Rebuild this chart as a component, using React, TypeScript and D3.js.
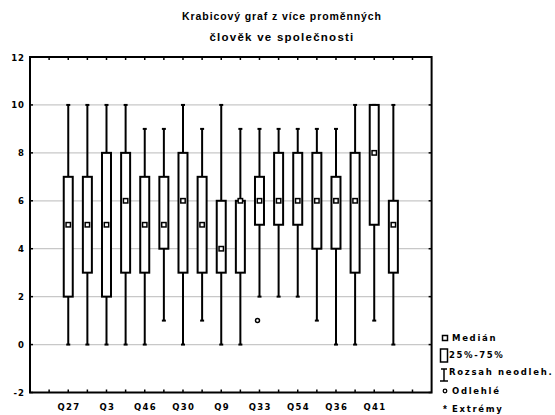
import React from "react";
import * as d3 from "d3";

const categoryLabels = ["Q27", "", "Q3", "", "Q46", "", "Q30", "", "Q9", "", "Q33", "", "Q54", "", "Q36", "", "Q41", ""];
const medians = [5, 5, 5, 6, 5, 5, 6, 5, 4, 6, 6, 6, 6, 6, 6, 6, 8, 5];
const q1s = [2, 3, 2, 3, 3, 4, 3, 3, 3, 3, 5, 5, 5, 4, 4, 3, 5, 3];
const q3s = [7, 7, 8, 8, 7, 7, 8, 7, 6, 6, 7, 8, 8, 8, 7, 8, 10, 6];
const mins = [0, 0, 0, 0, 0, 1, 0, 1, 0, 0, 2, 2, 2, 1, 0, 0, 1, 0];
const maxs = [10, 10, 10, 10, 9, 9, 10, 9, 10, 9, 9, 9, 9, 9, 9, 10, 10, 10];
const outlierIndex = [10];
const outlierValue = [1];
const yTicks = [-2, 0, 2, 4, 6, 8, 10, 12];
const gridValues = [0, 2, 4, 6, 8, 10];
const titleLines = ["Krabicový graf z více proměnných", "člověk ve společnosti"];
const legendLabels = ["Medián", "25%-75%", "Rozsah neodleh.", "Odlehlé", "Extrémy"];

export default function App() {
  const W = 555, H = 415;
  const L = 30, R = 431.6, T = 57, B = 392.5;
  const x = d3.scaleLinear().domain([-1, categoryLabels.length + 2]).range([L, R]);
  const y = d3.scaleLinear().domain([-2, 12]).range([B, T]);
  const font = "'Liberation Sans', Arial, sans-serif";
  const font2 = "'DejaVu Sans', sans-serif";
  const bw = 9;
  const capW = 4;
  const xTickPos = d3.range(0, categoryLabels.length + 2);

  return (
    <svg width={W} height={H} style={{ position: "fixed", left: 0, top: 0, background: "#fff" }}
      fontFamily={font}>
      <rect x={0} y={0} width={W} height={H} fill="#fff" />
      {titleLines.map((t, i) => (
        <text key={i} x={282} y={20 + i * 21} textAnchor="middle" fontSize={i === 0 ? 10.5 : 11.5}
          fontWeight="bold" letterSpacing={i === 0 ? 0.9 : 1.25}>{t}</text>
      ))}
      {gridValues.map((v) => (
        <line key={v} x1={L} x2={R} y1={y(v)} y2={y(v)} stroke="#c8c8c8" strokeWidth={1.2} />
      ))}
      {xTickPos.map((p) => (
        <g key={p}>
          <line x1={x(p)} x2={x(p)} y1={T} y2={T + 3} stroke="#000" strokeWidth={1.5} />
          <line x1={x(p)} x2={x(p)} y1={B} y2={B - 3} stroke="#000" strokeWidth={1.5} />
        </g>
      ))}
      {yTicks.map((v) => (
        <g key={v}>
          <line x1={L} x2={L + 3} y1={y(v)} y2={y(v)} stroke="#000" strokeWidth={1.5} />
          <line x1={R} x2={R - 3} y1={y(v)} y2={y(v)} stroke="#000" strokeWidth={1.5} />
          <text x={25} y={y(v) + 3.5} textAnchor="end" fontSize={8.5} fontWeight="bold"
            fontFamily={font2} letterSpacing={1}>{v}</text>
        </g>
      ))}
      {medians.map((m, i) => {
        const cx = x(i + 1);
        return (
          <g key={i} stroke="#000" strokeWidth={2} fill="none">
            <line x1={cx} x2={cx} y1={y(maxs[i])} y2={y(q3s[i])} />
            <line x1={cx} x2={cx} y1={y(q1s[i])} y2={y(mins[i])} />
            <line x1={cx - capW / 2} x2={cx + capW / 2} y1={y(maxs[i])} y2={y(maxs[i])} />
            <line x1={cx - capW / 2} x2={cx + capW / 2} y1={y(mins[i])} y2={y(mins[i])} />
            <rect x={cx - bw / 2} y={y(q3s[i])} width={bw} height={y(q1s[i]) - y(q3s[i])} fill="#fff" />
            <rect x={cx - 2.2} y={y(m) - 2.2} width={4.4} height={4.4} fill="#fff" strokeWidth={1.5} />
          </g>
        );
      })}
      {outlierIndex.map((ci, k) => (
        <circle key={k} cx={x(ci + 1) - 2} cy={y(outlierValue[k])} r={2} fill="#fff" stroke="#000" strokeWidth={1.5} />
      ))}
      <rect x={L} y={T} width={R - L} height={B - T} fill="none" stroke="#000" strokeWidth={2} />
      {categoryLabels.map((c, i) => c ? (
        <text key={i} x={x(i + 1) + 0.8} y={410} textAnchor="middle" fontSize={8.5} fontWeight="bold"
          fontFamily={font2} letterSpacing={1.3}>{c}</text>
      ) : null)}
      <g stroke="#000" fill="#fff">
        <rect x={442.5} y={335.5} width={5} height={5} strokeWidth={1.5} />
        <rect x={440.5} y={349} width={7} height={13} strokeWidth={1.5} />
        <line x1={444} x2={444} y1={369} y2={381} strokeWidth={1.5} />
        <line x1={441} x2={447} y1={369} y2={369} strokeWidth={1.5} />
        <line x1={440} x2={448} y1={381} y2={381} strokeWidth={1.5} />
        <circle cx={445} cy={391} r={1.8} strokeWidth={1.3} />
        <text x={445} y={413} textAnchor="middle" fontSize={10} fontWeight="bold" fill="#000" stroke="none">*</text>
      </g>
      {legendLabels.map((t, i) => (
        <text key={i} x={i === 1 || i === 2 ? 449 : 452} y={[341, 358, 375, 394, 412][i]} fontSize={8.5}
          fontWeight="bold" fontFamily={font2} letterSpacing={i === 1 ? 1.6 : 1.7}>{t}</text>
      ))}
    </svg>
  );
}
